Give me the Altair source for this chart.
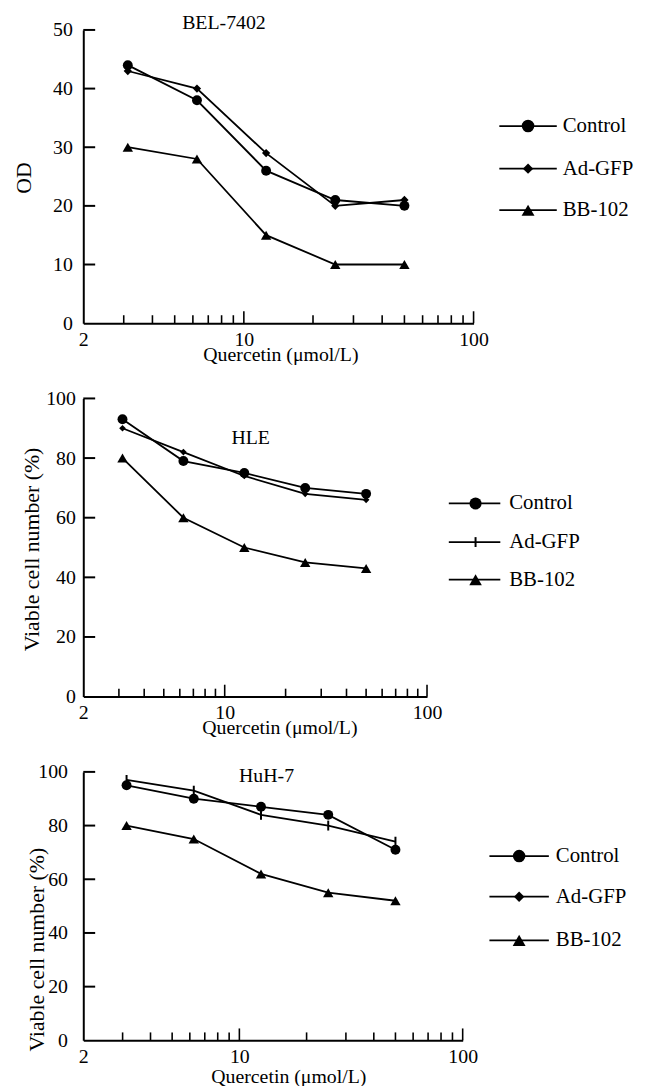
import altair as alt
import pandas as pd

# ---------------- data ----------------
CONC = [3.125, 6.25, 12.5, 25, 50]
SERIES = ["Control", "Ad-GFP", "BB-102"]

BEL_CONTROL = [44, 38, 26, 21, 20]
BEL_ADGFP = [43, 40, 29, 20, 21]
BEL_BB102 = [30, 28, 15, 10, 10]

HLE_CONTROL = [93, 79, 75, 70, 68]
HLE_ADGFP = [90, 82, 74, 68, 66]
HLE_BB102 = [80, 60, 50, 45, 43]

HUH_CONTROL = [95, 90, 87, 84, 71]
HUH_ADGFP = [97, 93, 84, 80, 74]
HUH_BB102 = [80, 75, 62, 55, 52]

MINOR_TICKS = [3, 4, 5, 6, 7, 8, 9, 20, 30, 40, 50, 60, 70, 80, 90]
MAJOR_TICKS = [10, 100]
X_LABELS = [2, 10, 100]

X_TITLE = "Quercetin (μmol/L)"
FONT = "Liberation Serif"

VTICK = "M0,-1V1"


def panel(name, values, ymax, ystep, ytitle, W, H, cfg):
    rows = []
    for s, vals in zip(SERIES, values):
        for c, v in zip(CONC, vals):
            rows.append({"conc": c, "value": v, "series": s})
    df = pd.DataFrame(rows)

    x = alt.X(
        "conc:Q",
        scale=alt.Scale(type="log", domain=[2, 100], nice=False),
        axis=alt.Axis(
            values=X_LABELS, title=X_TITLE, format="d", ticks=False, tickSize=0,
            grid=False, domainColor="black", domainWidth=2,
            labelFont=FONT, labelFontSize=20, labelColor="black",
            labelBaseline="middle", labelPadding=cfg["xlab_pad"], labelFlush=False,
            labelOverlap=False,
            titleFont=FONT, titleFontSize=20, titleFontWeight="normal", titleColor="black",
            titleBaseline="middle", titleY=cfg["xtitle_y"], titleX=cfg["xtitle_x"],
        ),
    )
    y = alt.Y(
        "value:Q",
        scale=alt.Scale(domain=[0, ymax], nice=False),
        axis=alt.Axis(
            values=list(range(0, ymax + 1, ystep)), title=ytitle, ticks=False, tickSize=0,
            grid=False, domainColor="black", domainWidth=2,
            labelFont=FONT, labelFontSize=20, labelColor="black",
            labelPadding=cfg["ylab_pad"], labelFlush=False, labelOverlap=False,
            titleFont=FONT, titleFontSize=22, titleFontWeight="normal", titleColor="black",
            titleAngle=270, titleBaseline="middle", titleAlign="center",
            titleX=cfg["ytitle_x"], titleY=cfg["ytitle_y"],
        ),
    )

    layers = []
    layers.append(
        alt.Chart(df).mark_line(color="black", strokeWidth=1.8).encode(x=x, y=y, detail="series:N")
    )

    # markers
    for s in SERIES:
        shape, size, filled = cfg["plot_shapes"][s]
        sub = df[df["series"] == s]
        if filled:
            m = alt.Chart(sub).mark_point(shape=shape, size=size, filled=True, color="black", opacity=1)
        else:
            m = alt.Chart(sub).mark_point(shape=shape, size=size, filled=False, color="black",
                                          strokeWidth=2, opacity=1)
        layers.append(m.encode(x=x, y=y))

    # inward x ticks
    minor = pd.DataFrame({"conc": MINOR_TICKS})
    major = pd.DataFrame({"conc": MAJOR_TICKS})
    layers.append(alt.Chart(minor).mark_rule(color="black", strokeWidth=1.6).encode(
        x=x, y=alt.value(H), y2=alt.value(H - 8)))
    layers.append(alt.Chart(major).mark_rule(color="black", strokeWidth=1.6).encode(
        x=x, y=alt.value(H), y2=alt.value(H - 12)))
    # inward y ticks
    yt = pd.DataFrame({"value": list(range(ystep, ymax + 1, ystep))})
    layers.append(alt.Chart(yt).mark_rule(color="black", strokeWidth=2).encode(
        y=y, x=alt.value(0), x2=alt.value(12)))

    # panel title
    layers.append(alt.Chart(pd.DataFrame({"t": [name]})).mark_text(
        font=FONT, fontSize=20, color="black", align="center", baseline="alphabetic"
    ).encode(text="t:N", x=alt.value(cfg["title_x"]), y=alt.value(cfg["title_y"])))

    # legend
    lg = cfg["legend"]
    leg_df = pd.DataFrame({"series": SERIES})
    for i, s in enumerate(SERIES):
        ly = lg["rows"][i]
        sub = leg_df[leg_df["series"] == s]
        layers.append(alt.Chart(sub).mark_rule(color="black", strokeWidth=1.8).encode(
            x=alt.value(lg["x0"]), x2=alt.value(lg["x1"]), y=alt.value(ly)))
        shape, size, filled = cfg["legend_shapes"][s]
        if filled:
            pm = alt.Chart(sub).mark_point(shape=shape, size=size, filled=True, color="black", opacity=1)
        else:
            pm = alt.Chart(sub).mark_point(shape=shape, size=size, filled=False, color="black",
                                           strokeWidth=2, opacity=1)
        layers.append(pm.encode(x=alt.value(lg["xm"]), y=alt.value(ly)))
        layers.append(alt.Chart(sub).mark_text(
            font=FONT, fontSize=21, color="black", align="left", baseline="middle"
        ).encode(text="series:N", x=alt.value(lg["xt"]), y=alt.value(ly)))

    return alt.layer(*layers).properties(width=W, height=H)


p1 = panel(
    "BEL-7402", [BEL_CONTROL, BEL_ADGFP, BEL_BB102], 50, 10, "OD", 394, 296,
    {
        "xlab_pad": 17, "xtitle_y": 32, "xtitle_x": 199,
        "ylab_pad": 11, "ytitle_x": -60, "ytitle_y": 149,
        "title_x": 142, "title_y": -1,
        "plot_shapes": {"Control": ("circle", 100, True), "Ad-GFP": ("diamond", 70, True),
                        "BB-102": ("triangle-up", 110, True)},
        "legend_shapes": {"Control": ("circle", 160, True), "Ad-GFP": ("diamond", 110, True),
                          "BB-102": ("triangle-up", 170, True)},
        "legend": {"rows": [97, 140, 182], "x0": 420, "x1": 478, "xm": 449, "xt": 484},
    },
)

p2 = panel(
    "HLE", [HLE_CONTROL, HLE_ADGFP, HLE_BB102], 100, 20, "Viable cell number (%)", 347, 301,
    {
        "xlab_pad": 16, "xtitle_y": 31, "xtitle_x": 198,
        "ylab_pad": 8, "ytitle_x": -52, "ytitle_y": 152,
        "title_x": 169, "title_y": 46,
        "plot_shapes": {"Control": ("circle", 100, True), "Ad-GFP": ("diamond", 45, True),
                        "BB-102": ("triangle-up", 110, True)},
        "legend_shapes": {"Control": ("circle", 150, True), "Ad-GFP": (VTICK, 100, False),
                          "BB-102": ("triangle-up", 160, True)},
        "legend": {"rows": [106, 145, 183], "x0": 369, "x1": 421, "xm": 396, "xt": 430},
    },
)

p3 = panel(
    "HuH-7", [HUH_CONTROL, HUH_ADGFP, HUH_BB102], 100, 20, "Viable cell number (%)", 383, 271,
    {
        "xlab_pad": 16, "xtitle_y": 37, "xtitle_x": 207,
        "ylab_pad": 16, "ytitle_x": -47, "ytitle_y": 179,
        "title_x": 185, "title_y": 10,
        "plot_shapes": {"Control": ("circle", 100, True), "Ad-GFP": (VTICK, 100, False),
                        "BB-102": ("triangle-up", 110, True)},
        "legend_shapes": {"Control": ("circle", 160, True), "Ad-GFP": ("diamond", 110, True),
                          "BB-102": ("triangle-up", 170, True)},
        "legend": {"rows": [85, 126, 170], "x0": 410, "x1": 470, "xm": 440, "xt": 477},
    },
)

chart = alt.vconcat(p1, p2, p3, spacing=76, bounds="flush").configure_view(
    stroke=None
).properties(
    padding={"left": 5, "top": 0, "right": 5, "bottom": 0},
    background="white",
)

chart.save("out.html", embed_options={"renderer": "svg", "actions": False})
